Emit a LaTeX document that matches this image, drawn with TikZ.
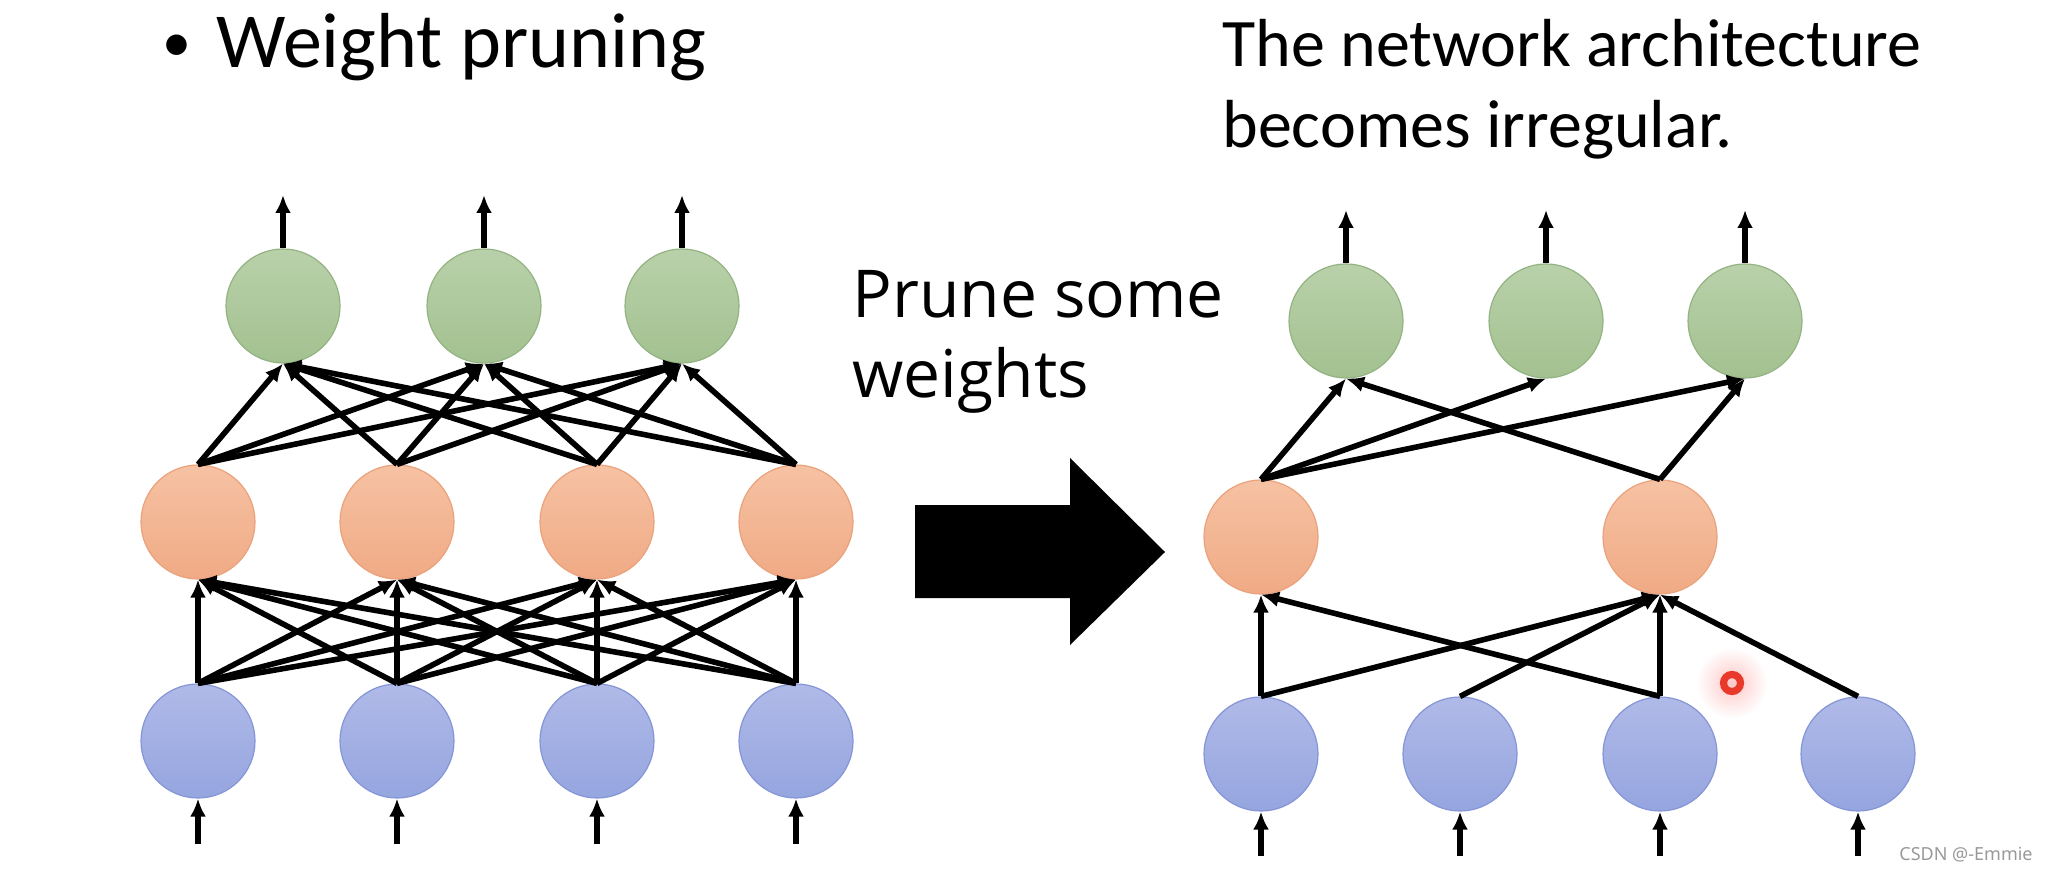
\documentclass[tikz,border=0pt]{standalone}
\usepackage{fontspec}
\setmainfont{Carlito}
\newfontfamily\segoefont{Open Sans}
\newfontfamily\wmfont{Noto Sans}
\usetikzlibrary{arrows.meta}
\definecolor{gtop}{HTML}{B9D1AA}
\definecolor{gbot}{HTML}{A3C190}
\definecolor{gdraw}{HTML}{94B383}
\definecolor{otop}{HTML}{F6C2A3}
\definecolor{obot}{HTML}{F0AA85}
\definecolor{odraw}{HTML}{E9A27C}
\definecolor{btop}{HTML}{B0BAE8}
\definecolor{bbot}{HTML}{95A5DF}
\definecolor{bdraw}{HTML}{8595D6}
\definecolor{laser}{HTML}{E8392A}
\begin{document}
\begin{tikzpicture}[x=0.5pt,y=-0.5pt,
  neuron/.style={circle, minimum size=57pt, inner sep=0pt, line width=0.6pt},
  gneuron/.style={neuron, draw=gdraw, top color=gtop, bottom color=gbot},
  oneuron/.style={neuron, draw=odraw, top color=otop, bottom color=obot},
  bneuron/.style={neuron, draw=bdraw, top color=btop, bottom color=bbot},
  conn/.style={line width=2.8pt, -{Latex[length=9pt,width=8pt]}},
  title/.style={font=\fontsize{34}{40}\selectfont, anchor=base west, inner sep=0pt},
  prune/.style={font=\segoefont\fontsize{33}{38}\selectfont, anchor=base west, inner sep=0pt},
]
\useasboundingbox (0,0) rectangle (2048,882);

% texts
\node[title, font=\fontsize{29}{34}\selectfont, anchor=base] (bullet) at (177,62) {•};
\node[title, font=\fontsize{39}{44}\selectfont] (t1) at (216,68) {Weight pruning};
\node[title] (t2) at (1222,67) {The network architecture};
\node[title] (t3) at (1222,148) {becomes irregular.};
\node[prune] (p1) at (852,317) {Prune some};
\node[prune] (p2) at (852,397) {weights};
\node[font=\wmfont\fontsize{9}{11}\selectfont, text=black!40, anchor=base east, inner sep=0pt] (wm) at (2033,860) {CSDN @-Emmie};

% big arrow
\fill[black] (915,505) -- (1070,505) -- (1070,458) -- (1165,552) -- (1070,645) -- (1070,598) -- (915,598) -- cycle;

% left network
\node[gneuron] (lg1) at (283,306) {};
\node[gneuron] (lg2) at (484,306) {};
\node[gneuron] (lg3) at (682,306) {};
\foreach \i/\x in {1/198,2/397,3/597,4/796}{
  \node[oneuron] (lo\i) at (\x,522) {};
  \node[bneuron] (lb\i) at (\x,741) {};
  \coordinate (lin\i) at (\x,844);
}
\foreach \i/\x in {1/283,2/484,3/682}{
  \coordinate (lout\i) at (\x,195);
  \draw[conn] (lg\i.north) -- (lout\i);
}
\foreach \i in {1,...,4}{
  \draw[conn] (lin\i) -- (lb\i.south);
  \foreach \j in {1,...,4}{\draw[conn] (lb\i.north) -- (lo\j.south);}
  \foreach \j in {1,...,3}{\draw[conn] (lo\i.north) -- (lg\j.south);}
}

% right network
\node[gneuron] (rg1) at (1346,321) {};
\node[gneuron] (rg2) at (1546,321) {};
\node[gneuron] (rg3) at (1745,321) {};
\node[oneuron] (ro1) at (1261,537) {};
\node[oneuron] (ro2) at (1660,537) {};
\foreach \i/\x in {1/1261,2/1460,3/1660,4/1858}{
  \node[bneuron] (rb\i) at (\x,754) {};
  \coordinate (rin\i) at (\x,856);
  \draw[conn] (rin\i) -- (rb\i.south);
}
\foreach \i/\x in {1/1346,2/1546,3/1745}{
  \coordinate (rout\i) at (\x,210);
  \draw[conn] (rg\i.north) -- (rout\i);
}
\draw[conn] (rb1.north) -- (ro1.south);
\draw[conn] (rb1.north) -- (ro2.south);
\draw[conn] (rb2.north) -- (ro2.south);
\draw[conn] (rb3.north) -- (ro1.south);
\draw[conn] (rb3.north) -- (ro2.south);
\draw[conn] (rb4.north) -- (ro2.south);
\draw[conn] (ro1.north) -- (rg1.south);
\draw[conn] (ro1.north) -- (rg2.south);
\draw[conn] (ro1.north) -- (rg3.south);
\draw[conn] (ro2.north) -- (rg1.south);
\draw[conn] (ro2.north) -- (rg3.south);

% laser pointer dot
\shade[inner color=red!22, outer color=white] (1732,683) circle[radius=36];
\draw[laser, line width=3.6pt] (1732,683) circle[radius=8.5];
\end{tikzpicture}
\end{document}
